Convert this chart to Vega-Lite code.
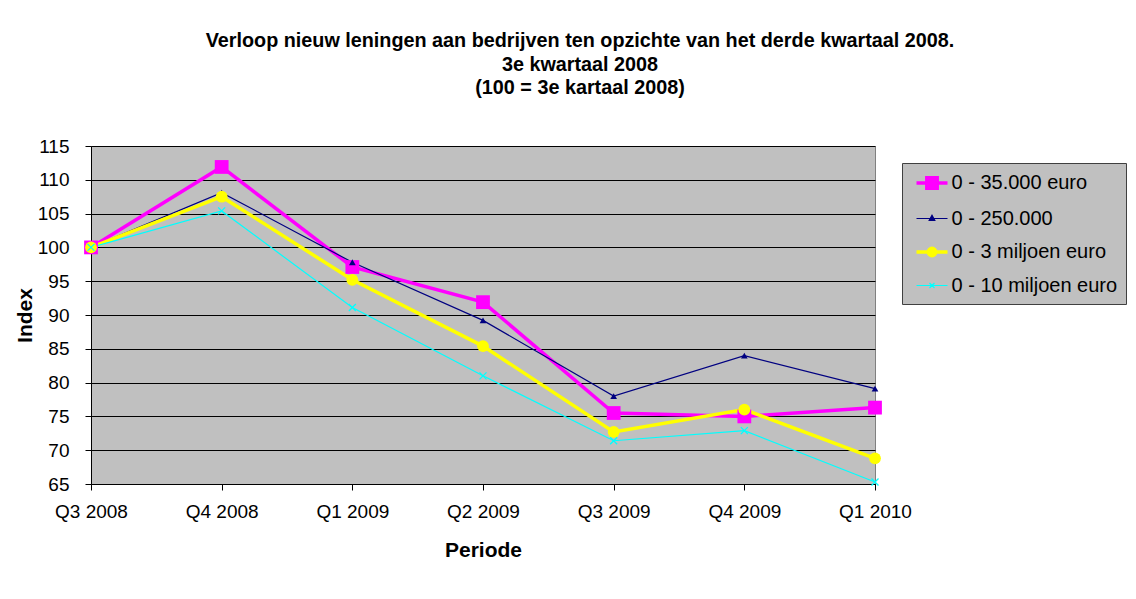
{
  "$schema": "https://vega.github.io/schema/vega-lite/v6.json",
  "width": 784,
  "height": 338,
  "autosize": {"type": "none"},
  "padding": {"left": 91, "top": 146, "right": 261, "bottom": 115},
  "background": "white",
  "title": {
    "text": ["Verloop nieuw leningen aan bedrijven ten opzichte van het derde kwartaal 2008.", "3e kwartaal 2008", "(100 = 3e kartaal 2008)"],
    "font": "Liberation Sans",
    "fontSize": 19.8,
    "fontWeight": "bold",
    "color": "black",
    "anchor": "middle",
    "dx": 97,
    "offset": 39,
    "lineHeight": 23.5
  },
  "data": {
    "values": [
      {"periode": "Q3 2008", "reeks": "0 - 35.000 euro", "index": 100},
      {"periode": "Q4 2008", "reeks": "0 - 35.000 euro", "index": 111.9},
      {"periode": "Q1 2009", "reeks": "0 - 35.000 euro", "index": 97.1},
      {"periode": "Q2 2009", "reeks": "0 - 35.000 euro", "index": 91.9},
      {"periode": "Q3 2009", "reeks": "0 - 35.000 euro", "index": 75.5},
      {"periode": "Q4 2009", "reeks": "0 - 35.000 euro", "index": 75.0},
      {"periode": "Q1 2010", "reeks": "0 - 35.000 euro", "index": 76.3},
      {"periode": "Q3 2008", "reeks": "0 - 250.000", "index": 100},
      {"periode": "Q4 2008", "reeks": "0 - 250.000", "index": 108.1},
      {"periode": "Q1 2009", "reeks": "0 - 250.000", "index": 97.8},
      {"periode": "Q2 2009", "reeks": "0 - 250.000", "index": 89.2},
      {"periode": "Q3 2009", "reeks": "0 - 250.000", "index": 78.0},
      {"periode": "Q4 2009", "reeks": "0 - 250.000", "index": 84.0},
      {"periode": "Q1 2010", "reeks": "0 - 250.000", "index": 79.1},
      {"periode": "Q3 2008", "reeks": "0 - 3 miljoen euro", "index": 100},
      {"periode": "Q4 2008", "reeks": "0 - 3 miljoen euro", "index": 107.5},
      {"periode": "Q1 2009", "reeks": "0 - 3 miljoen euro", "index": 95.2},
      {"periode": "Q2 2009", "reeks": "0 - 3 miljoen euro", "index": 85.4},
      {"periode": "Q3 2009", "reeks": "0 - 3 miljoen euro", "index": 72.7},
      {"periode": "Q4 2009", "reeks": "0 - 3 miljoen euro", "index": 76.0},
      {"periode": "Q1 2010", "reeks": "0 - 3 miljoen euro", "index": 68.8},
      {"periode": "Q3 2008", "reeks": "0 - 10 miljoen euro", "index": 100},
      {"periode": "Q4 2008", "reeks": "0 - 10 miljoen euro", "index": 105.4},
      {"periode": "Q1 2009", "reeks": "0 - 10 miljoen euro", "index": 91.1},
      {"periode": "Q2 2009", "reeks": "0 - 10 miljoen euro", "index": 81.0},
      {"periode": "Q3 2009", "reeks": "0 - 10 miljoen euro", "index": 71.4},
      {"periode": "Q4 2009", "reeks": "0 - 10 miljoen euro", "index": 72.9},
      {"periode": "Q1 2010", "reeks": "0 - 10 miljoen euro", "index": 65.3}
    ]
  },
  "encoding": {
    "x": {
      "field": "periode",
      "type": "ordinal",
      "sort": ["Q3 2008", "Q4 2008", "Q1 2009", "Q2 2009", "Q3 2009", "Q4 2009", "Q1 2010"],
      "scale": {"type": "point", "padding": 0},
      "axis": {
        "title": "Periode",
        "labelAngle": 0,
        "grid": false,
        "tickSize": 6,
        "labelPadding": 12,
        "titlePadding": 18
      }
    },
    "y": {
      "field": "index",
      "type": "quantitative",
      "scale": {"domain": [65, 115], "nice": false, "zero": false},
      "axis": {
        "title": "Index",
        "values": [65, 70, 75, 80, 85, 90, 95, 100, 105, 110, 115],
        "grid": true,
        "tickSize": 6,
        "labelPadding": 16,
        "titlePadding": 2
      }
    }
  },
  "layer": [
    {
      "mark": {"type": "line"},
      "encoding": {
        "stroke": {
          "field": "reeks",
          "type": "nominal",
          "title": null,
          "scale": {"domain": ["0 - 35.000 euro", "0 - 250.000", "0 - 3 miljoen euro", "0 - 10 miljoen euro"], "range": ["#FF00FF", "#000080", "#FFFF00", "#00FFFF"]}
        },
        "strokeWidth": {
          "field": "reeks",
          "type": "nominal",
          "title": null,
          "scale": {"type": "ordinal", "domain": ["0 - 35.000 euro", "0 - 250.000", "0 - 3 miljoen euro", "0 - 10 miljoen euro"], "range": [3.5, 1.2, 3.5, 1.2]}
        }
      }
    },
    {
      "transform": [{"filter": {"field": "reeks", "equal": "0 - 35.000 euro"}}],
      "mark": {"type": "point", "shape": "square", "size": 190, "filled": true, "opacity": 1, "color": "#FF00FF"}
    },
    {
      "transform": [{"filter": {"field": "reeks", "equal": "0 - 250.000"}}],
      "mark": {"type": "point", "shape": "triangle-up", "size": 45, "filled": true, "opacity": 1, "color": "#000080"}
    },
    {
      "transform": [{"filter": {"field": "reeks", "equal": "0 - 3 miljoen euro"}}],
      "mark": {"type": "point", "shape": "circle", "size": 140, "filled": true, "opacity": 1, "color": "#FFFF00"}
    },
    {
      "transform": [{"filter": {"field": "reeks", "equal": "0 - 10 miljoen euro"}}],
      "mark": {"type": "point", "shape": "M-1,-1L1,1M-1,1L1,-1", "size": 49, "filled": false, "opacity": 1, "strokeWidth": 1.3, "color": "#00FFFF"}
    },
    {
      "mark": {"type": "point", "size": 0, "opacity": 1, "filled": false},
      "encoding": {
        "shape": {
          "field": "reeks",
          "type": "nominal",
          "title": null,
          "scale": {"domain": ["0 - 35.000 euro", "0 - 250.000", "0 - 3 miljoen euro", "0 - 10 miljoen euro"], "range": ["M-1.55,0H1.55M-0.52,-0.52H0.52V0.52H-0.52Z", "M-1.55,0H1.55M0,-0.33L0.28,0.18L-0.28,0.18Z", "M-1.55,0H1.55M-0.37,0A0.37,0.37 0 1,0 0.37,0A0.37,0.37 0 1,0 -0.37,0Z", "M-1.55,0H1.55M-0.25,-0.25L0.25,0.25M-0.25,0.25L0.25,-0.25"]},
          "legend": {
            "title": null,
            "orient": "none",
            "legendX": 811,
            "legendY": 17,
            "padding": 8,
            "rowPadding": 11.5,
            "symbolOffset": 10,
            "labelOffset": 7.5,
            "symbolSize": 400,
            "labelFont": "Liberation Sans",
            "labelFontSize": 20,
            "labelColor": "black",
            "labelLimit": 400,
            "fillColor": "#C0C0C0",
            "strokeColor": "#404040",
            "encode": {
              "legend": {"update": {"strokeWidth": {"value": 1.5}}},
              "symbols": {
                "update": {
                  "size": {"value": 400},
                  "opacity": {"value": 1}
                }
              }
            }
          }
        },
        "fill": {
          "field": "reeks",
          "type": "nominal",
          "title": null,
          "scale": {"domain": ["0 - 35.000 euro", "0 - 250.000", "0 - 3 miljoen euro", "0 - 10 miljoen euro"], "range": ["#FF00FF", "#000080", "#FFFF00", "#00FFFF"]}
        }
      }
    }
  ],
  "config": {
    "font": "Liberation Sans",
    "view": {"fill": "#C0C0C0", "stroke": "#808080", "strokeWidth": 1},
    "axis": {
      "domainColor": "black",
      "domainWidth": 1,
      "tickColor": "black",
      "tickWidth": 1,
      "gridColor": "black",
      "gridWidth": 1,
      "gridOpacity": 1,
      "labelFont": "Liberation Sans",
      "labelFontSize": 19,
      "labelColor": "black",
      "titleFont": "Liberation Sans",
      "titleFontSize": 21,
      "titleFontWeight": "bold",
      "titleColor": "black"
    }
  }
}
